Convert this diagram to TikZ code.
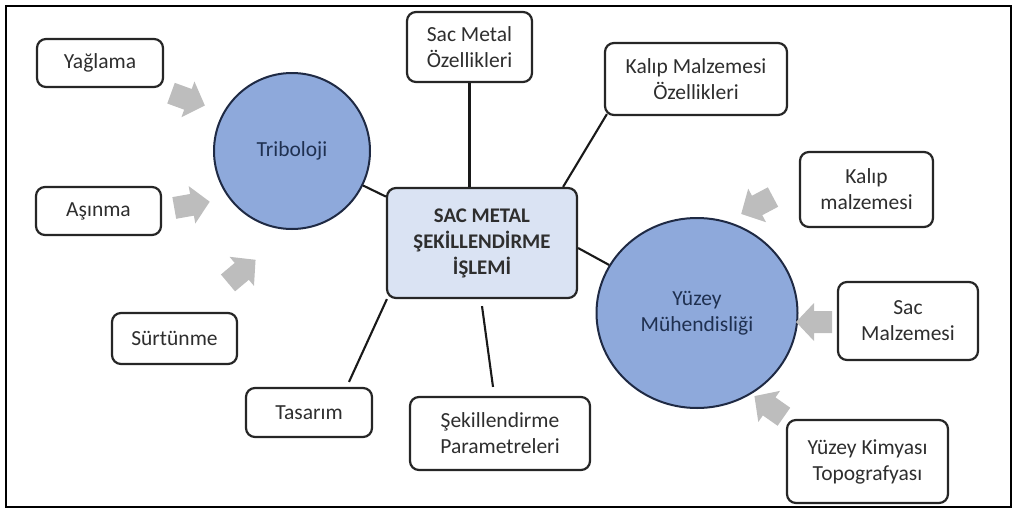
\documentclass[tikz,border=0pt]{standalone}
\usepackage{fontspec}
\setmainfont{Carlito}
\usetikzlibrary{shapes.geometric}
\definecolor{boxtext}{HTML}{2E2E2E}
\definecolor{boxline}{HTML}{262626}
\definecolor{circfill}{HTML}{8EA9DB}
\definecolor{circline}{HTML}{1F2A44}
\definecolor{circtext}{HTML}{1F3050}
\definecolor{mainfill}{HTML}{DAE3F3}
\definecolor{arrowgray}{HTML}{BDBDBD}
\newcommand{\GrArrow}[3]{%
  \fill[arrowgray, shift={(#1,#2)}, rotate=#3]
    (-17,-11) -- (1,-11) -- (1,-19) -- (19,0) -- (1,19) -- (1,11) -- (-17,11) -- cycle;}
\tikzset{
  box/.style={draw=boxline, line width=2.2pt, rounded corners=9pt, fill=white,
    text=boxtext, align=center, inner sep=0pt,
    font=\fontsize{21.5}{26}\selectfont},
  mainbox/.style={box, fill=mainfill, font=\fontsize{20.8}{26}\selectfont\bfseries},
  circ/.style={draw=circline, line width=2pt, fill=circfill, text=circtext,
    align=center, inner sep=0pt, font=\fontsize{21.5}{26}\selectfont},
  conn/.style={draw=black!90, line width=2.1pt}
}
\begin{document}
\begin{tikzpicture}[x=1pt,y=-1pt]
\useasboundingbox (0,0) rectangle (1017,514);
\draw[line width=1.6pt] (6,6) rectangle (1011,507);

% circles
\node[circ, circle, minimum size=156pt] (trib) at (292,151) {Triboloji};
\node[circ, ellipse, minimum width=201pt, minimum height=190pt] (yuz) at (697,313) {Yüzey\\Mühendisliği};

% central box
\node[mainbox, minimum width=190pt, minimum height=110pt] (main) at (482,243) {SAC METAL\\ŞEKİLLENDİRME\\İŞLEMİ};

% left boxes
\node[box, minimum width=126pt, minimum height=48pt] (yag) at (100,63) {Yağlama};
\node[box, minimum width=125pt, minimum height=48pt] (asin) at (98.5,211) {Aşınma};
\node[box, minimum width=125pt, minimum height=51pt] (surt) at (174.5,338.5) {Sürtünme};

% boxes around main
\node[box, minimum width=125pt, minimum height=70pt] (smo) at (469.5,47) {Sac Metal\\Özellikleri};
\node[box, minimum width=182pt, minimum height=72pt] (kmo) at (696,79) {Kalıp Malzemesi\\Özellikleri};
\node[box, minimum width=126pt, minimum height=49pt] (tas) at (309,412.5) {Tasarım};
\node[box, minimum width=180pt, minimum height=73pt] (sekp) at (500,433.5) {Şekillendirme\\Parametreleri};

% right boxes
\node[box, minimum width=133pt, minimum height=75pt] (kalm) at (866.5,189.5) {Kalıp\\malzemesi};
\node[box, minimum width=140pt, minimum height=78pt] (sacm) at (908,321) {Sac\\Malzemesi};
\node[box, minimum width=161pt, minimum height=83pt] (yk) at (867.5,461.5) {Yüzey Kimyası\\Topografyası};

% connectors
\draw[conn] (trib) -- (main);
\draw[conn] (smo.south) -- (smo.south |- main.north);
\draw[conn] ([xshift=3pt,yshift=2pt]kmo.south west) -- ([xshift=-15pt]main.north east);
\draw[conn] ([yshift=-5pt]main.east) -- (yuz);
\draw[conn] ([xshift=1pt]main.south west) -- ([xshift=40pt,yshift=5pt]tas.north);
\draw[conn] ([yshift=-7pt]main.south) -- ([xshift=-7pt,yshift=9pt]sekp.north);

% gray block arrows
\GrArrow{187}{99}{-20}
\GrArrow{191}{205}{10}
\GrArrow{241}{272}{40}
\GrArrow{758}{205}{208}
\GrArrow{815}{322}{180}
\GrArrow{770}{407}{145}
\end{tikzpicture}
\end{document}
